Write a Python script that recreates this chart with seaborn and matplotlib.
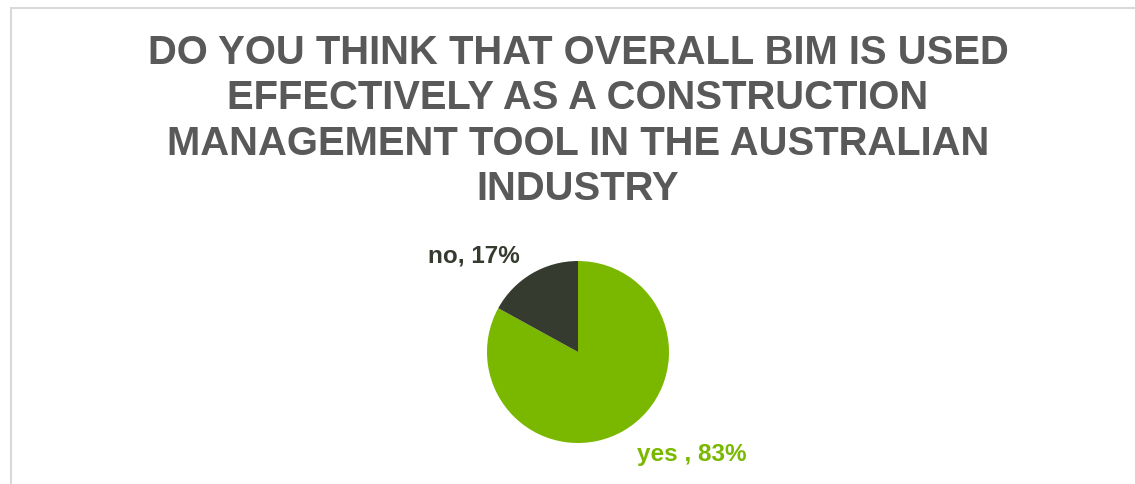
import matplotlib
matplotlib.use("Agg")
import matplotlib.pyplot as plt
import seaborn as sns
from matplotlib.patches import Rectangle
import numpy as np

# Survey answers
answers = ["yes", "no"]
shares = [83, 17]
slice_colors = ["#7ab800", "#363b2f"]
label_colors = ["#7ab800", "#363b2f"]

title = ("DO YOU THINK THAT OVERALL BIM IS USED\n"
         "EFFECTIVELY AS A CONSTRUCTION\n"
         "MANAGEMENT TOOL IN THE AUSTRALIAN\n"
         "INDUSTRY")

sns.set_theme(style="white")
plt.rcParams["font.family"] = ["Liberation Sans", "DejaVu Sans"]

W, H, DPI = 1135, 485, 100
fig = plt.figure(figsize=(W / DPI, H / DPI), dpi=DPI)
fig.patch.set_facecolor("white")

# pie radius of 91 px, centre at (578, 353) px from top-left
R = 91.0
cx, cy = 578.0, 353.0
x0, x1 = -2.2, 2.2
y0, y1 = -(H - cy) / R, 1.7
ax = fig.add_axes([(cx + x0 * R) / W, 0.0, (x1 - x0) * R / W, (y1 - y0) * R / H])

wedges, _ = ax.pie(shares, colors=slice_colors, startangle=90, counterclock=False,
                   radius=1.0, wedgeprops=dict(linewidth=0))
ax.set_xlim(x0, x1)
ax.set_ylim(y0, y1)
ax.set_axis_off()

# category labels placed beside their slices
offsets = {"yes": (1.25, -1.12), "no": (-1.14, 1.07)}
for name, val, col in zip(answers, shares, label_colors):
    sep = " , " if name == "yes" else ", "
    ox, oy = offsets[name]
    ax.text(ox, oy, f"{name}{sep}{val}%", color=col, fontsize=17.5,
            fontweight="bold", ha="center", va="center")

fig.text(cx / W, 1 - 121 / H, title, ha="center", va="center",
         fontsize=28.8, fontweight="bold", color="#595959", linespacing=1.24)

# chart frame
fig.add_artist(Rectangle((11 / W, -0.1), 1.2, (H - 9) / H + 0.1,
                         transform=fig.transFigure, fill=False,
                         edgecolor="#d9d9d9", linewidth=1.5))

fig.savefig("out.png", dpi=DPI, facecolor="white")
